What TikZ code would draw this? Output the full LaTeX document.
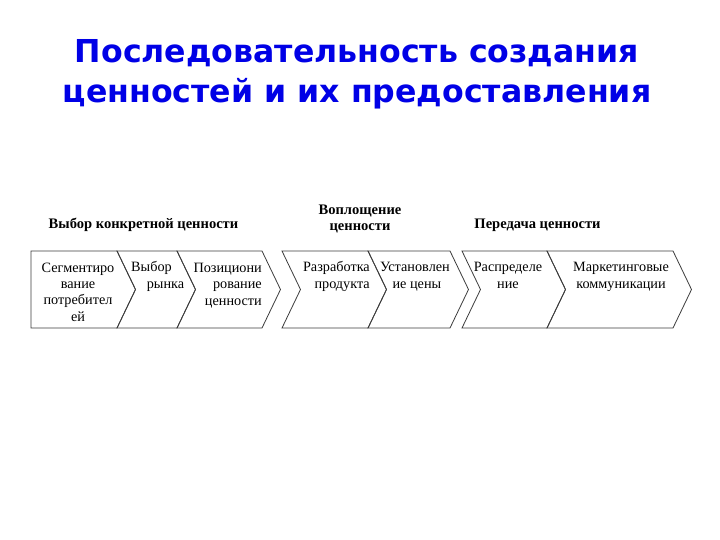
\documentclass[tikz,border=0pt]{standalone}
\usepackage{fontspec}
\setmainfont{Liberation Serif}
\newfontfamily\titlefont{DejaVu Sans}
\usetikzlibrary{positioning}
\definecolor{titleblue}{HTML}{0000E6}
\definecolor{edge}{HTML}{3C3C3C}

\begin{document}
\begin{tikzpicture}[x=1bp, y=-1bp,
    stage/.style={draw=edge, line width=0.8bp, line join=miter},
    label/.style={inner sep=0pt, font=\fontsize{14.3}{16.3}\selectfont},
    head/.style={inner sep=0pt, font=\fontsize{14.6}{17}\selectfont\bfseries, align=center},
    title/.style={inner sep=0pt, font=\titlefont\bfseries\fontsize{31.7}{41}\selectfont, text=titleblue, align=center}
]
    \useasboundingbox (0,0) rectangle (720,540);
    \fill[white] (0,0) rectangle (720,540);

    \node[title, anchor=base] (title) at (357,103) {Последовательность создания\\ценностей и их предоставления};

    % chevrons
    \draw[stage] (31,251) -- (117,251) -- (135.5,289.5) -- (117,328) -- (31,328) -- cycle;
    \foreach \a/\b in {117/177, 177/262, 282/368, 368/450, 462/547, 547/673}
        \draw[stage] (\a,251) -- (\b,251) -- (\b+18.5,289.5) -- (\b,328) -- (\a,328) -- (\a+18.5,289.5) -- cycle;

    \node[head, anchor=base] (choice) at (143.5,229) {Выбор конкретной ценности};
    \node[head, anchor=base] (embody) at (360,231) {Воплощение\\ценности};
    \node[head, anchor=base] (deliver) at (537.5,229) {Передача ценности};

    \node[label, align=center, anchor=base] (segment) at (78,321) {Сегментиро\\вание\\потребител\\ей};
    \node[label, align=left, anchor=base west] (market) at (131,288) {Выбор\\\hspace*{1.1em}рынка};
    \node[label, align=right, anchor=base east] (position) at (262,305) {Позициони\\рование\\ценности};
    \node[label, align=right, anchor=base east] (product) at (370,288) {Разработка\\продукта};
    \node[label, align=right, anchor=base east] (price) at (450,288) {Установлен\\ие цены\hspace*{0.6em}};
    \node[label, align=center, anchor=base] (distrib) at (508,288) {Распределе\\ние};
    \node[label, align=center, anchor=base] (promo) at (621,288) {Маркетинговые\\коммуникации};
\end{tikzpicture}
\end{document}
